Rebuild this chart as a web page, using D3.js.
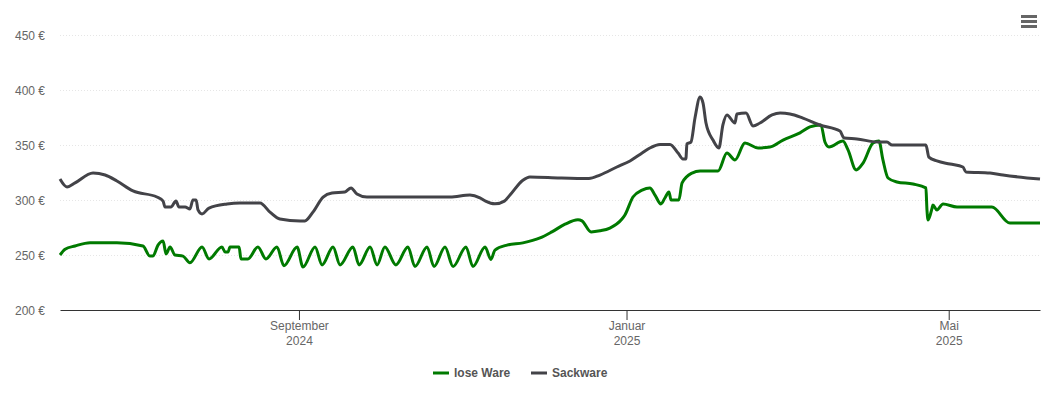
<!DOCTYPE html>
<html>
<head>
<meta charset="utf-8">
<script src="https://cdn.jsdelivr.net/npm/d3@7"></script>
<style>
	html, body { margin: 0; padding: 0; background: #fff; }
	text { font-family: "Liberation Sans", Arial, sans-serif; }
</style>
</head>
<body>
<svg id="chart" width="1050" height="400"></svg>
<script>
// days since the first day of the chart (4 June 2024) and price in euro
var START_DATE = Date.UTC(2024, 5, 4);

var loseDays = [0,1.9,5.6,11.2,21.2,30.9,33.5,34.6,36.5,38.4,39.5,41,42.8,45.8,48.4,52.9,55.5,60.3,61.5,62.6,63.3,66.7,67.4,70,73.7,76.7,80.8,83.4,88.3,90.5,95,97.6,101.7,104.3,109.1,111.4,115.5,118.1,121,125.1,129.6,132.2,136.7,139.3,143.4,146.4,151.2,153.8,158.3,160.5,162,166.5,172.4,178.8,183.2,188.1,192.9,194.4,197.8,201.1,204.8,209.3,210.4,213.4,216.8,219.7,221.6,223.8,225.3,226.8,227.6,230.5,231.7,235.4,238.4,245.1,248.4,251.4,255.1,260,264.4,269.3,275.6,279.3,283.4,284.9,286.4,291.6,293.5,296.5,299.1,302.8,305,306.5,308.4,311.7,317.7,322.5,322.9,323.3,324.8,325.1,326.6,328.9,334.1,347.1,353.8,365];
var loseValues = [250,255.2,258.2,261.2,261.2,258.2,249,249,259,262.7,251,257.3,250,249,243,257.3,246.4,257.3,252.7,252.7,257.3,257.3,246.4,246.4,257.3,246.4,257.3,240.3,257.3,239,257.3,241,257.3,241,257.3,241,257.3,241,257.3,241,257.3,239.5,257.3,239.5,257.3,239.5,257.3,239.5,257.3,246,254.5,259,261,265.5,271,278,282,281,271,272,274.5,282.7,286.4,302.7,309,311,304.5,296.4,301.8,307.3,300,300,315.5,324.5,326.4,326.4,342.7,336.4,351.8,347.3,348.2,354.5,361,366.4,368.2,352.7,348.2,353.6,345.5,327.3,333.6,351.8,353.6,336.4,320,316.4,314.5,311,291,281.8,292.7,295.5,291,296.4,293.6,293.6,279,279];

var sackDays = [0,2.6,5.6,12.3,16.8,21.2,27.2,36.1,38.4,39.1,41.3,43.2,44.3,46.6,48.4,49.5,50.7,51.4,52.9,55.5,62.2,67,74.5,78.2,81.9,89.4,91.2,94.2,98,101.3,106.1,108.4,110.6,114.3,145.3,152.7,156.4,158.5,162,165.5,167.6,172.4,175,186.2,197,201.1,207.4,212.3,216.8,219.7,223.5,227.2,230.2,232,233.1,233.5,235,236.5,238.4,239.5,240.6,243.2,245.4,246.9,248.4,251.4,252.1,255.5,258.1,260.7,265.2,268.2,271.9,276.7,283,290.5,292,296.8,304.6,308,309.9,322.5,323.6,326.6,331.5,336.3,337.4,346.4,351.2,365];
var sackValues = [319,311.8,315.5,324.5,322.7,317.3,308.2,302.7,299,293.6,293.6,299,293.6,293.6,291.8,300,300,291,287.3,292.7,296.4,297.3,297.3,289,282.7,281,281,289,302.7,306.4,307.3,311,305.5,302.7,302.7,304.5,302,299,296.5,299,304.5,318,321,320,319.5,322.7,330,335.5,342.7,347.3,350.5,350.5,342.7,337.3,337.3,351,352.7,374.5,393.6,388,370,354.5,347.3,368.2,377.3,370,378.2,379,367.3,370,377.3,379,378.2,374.5,368.2,362.7,356.4,355.5,352.7,352.7,350,350,339,335.5,332.7,330,325.5,324.5,322.7,319];

var yTicks = [200,250,300,350,400,450];
var monthTicks = [Date.UTC(2024,8,1), Date.UTC(2025,0,1), Date.UTC(2025,4,1)];
var monthNames = ["September","Januar","Mai"];
var yearNames = ["2024","2025","2025"];

var GREEN = "#007a00", GREY = "#434348";

function toDate(day){
	return new Date(START_DATE + day*86400000);
}

var svg = d3.select("#chart");

var xScale = d3.scaleUtc()
	.domain([toDate(0), toDate(365)])
	.range([60, 1040]);
var yScale = d3.scaleLinear()
	.domain([200, 450])
	.range([310, 35]);

// grid
svg.append("g").selectAll("line")
	.data(yTicks.slice(1))
	.enter()
	.append("line")
	.attr("x1", 60)
	.attr("x2", 1040)
	.attr("y1", function(d){ return yScale(d) + 0.5; })
	.attr("y2", function(d){ return yScale(d) + 0.5; })
	.attr("stroke", "#e6e6e6")
	.attr("stroke-width", 1)
	.attr("stroke-dasharray", "1,2");

// y axis, labels only
var yAxis = d3.axisLeft(yScale)
	.tickValues(yTicks)
	.tickSize(0)
	.tickPadding(15)
	.tickFormat(function(d){ return d + " €"; });
var yGroup = svg.append("g")
	.attr("transform", "translate(60,0)")
	.call(yAxis);
yGroup.select(".domain").remove();
yGroup.selectAll("text")
	.attr("font-size", 12)
	.attr("font-family", "Liberation Sans")
	.attr("dy", "0.38em")
	.attr("fill", "#666666");

// x axis
var xAxis = d3.axisBottom(xScale)
	.tickValues(monthTicks.map(function(d){ return new Date(d); }))
	.tickSizeOuter(0)
	.tickSizeInner(10)
	.tickFormat("");
var xGroup = svg.append("g")
	.attr("transform", "translate(0,310)")
	.call(xAxis);
xGroup.select(".domain").attr("stroke", "#333333");
xGroup.selectAll("line").attr("stroke", "#333333");
xGroup.selectAll("text").remove();
xGroup.selectAll(".tick").each(function(d, i){
	var label = d3.select(this).append("text")
		.attr("text-anchor", "middle")
		.attr("font-size", 12)
		.attr("fill", "#666666");
	label.append("tspan").attr("x", 0).attr("y", 20).text(monthNames[i]);
	label.append("tspan").attr("x", 0).attr("y", 35).text(yearNames[i]);
});

// lines
var line = d3.line()
	.x(function(d){ return xScale(toDate(d[0])); })
	.y(function(d){ return yScale(d[1]); })
	.curve(d3.curveMonotoneX);

svg.append("path")
	.datum(d3.zip(loseDays, loseValues))
	.attr("d", line)
	.attr("fill", "none")
	.attr("stroke", GREEN)
	.attr("stroke-width", 3)
	.attr("stroke-linejoin", "round");
svg.append("path")
	.datum(d3.zip(sackDays, sackValues))
	.attr("d", line)
	.attr("fill", "none")
	.attr("stroke", GREY)
	.attr("stroke-width", 3)
	.attr("stroke-linejoin", "round");

// legend
var legend = svg.append("g").selectAll("g")
	.data([
		{name: "lose Ware", color: GREEN, x: 433},
		{name: "Sackware", color: GREY, x: 531}
	])
	.enter()
	.append("g")
	.attr("transform", function(d){ return "translate(" + d.x + ",373)"; });
legend.append("line")
	.attr("x2", 16)
	.attr("stroke", function(d){ return d.color; })
	.attr("stroke-width", 3);
legend.append("text")
	.attr("x", 21)
	.attr("y", 4)
	.attr("font-size", 12)
	.attr("font-weight", "bold")
	.attr("fill", "#555555")
	.text(function(d){ return d.name; });

// menu button
svg.append("g").selectAll("rect")
	.data([15, 20, 25])
	.enter()
	.append("rect")
	.attr("x", 1021)
	.attr("y", function(d){ return d; })
	.attr("width", 16)
	.attr("height", 3)
	.attr("fill", "#666666");
</script>
</body>
</html>
